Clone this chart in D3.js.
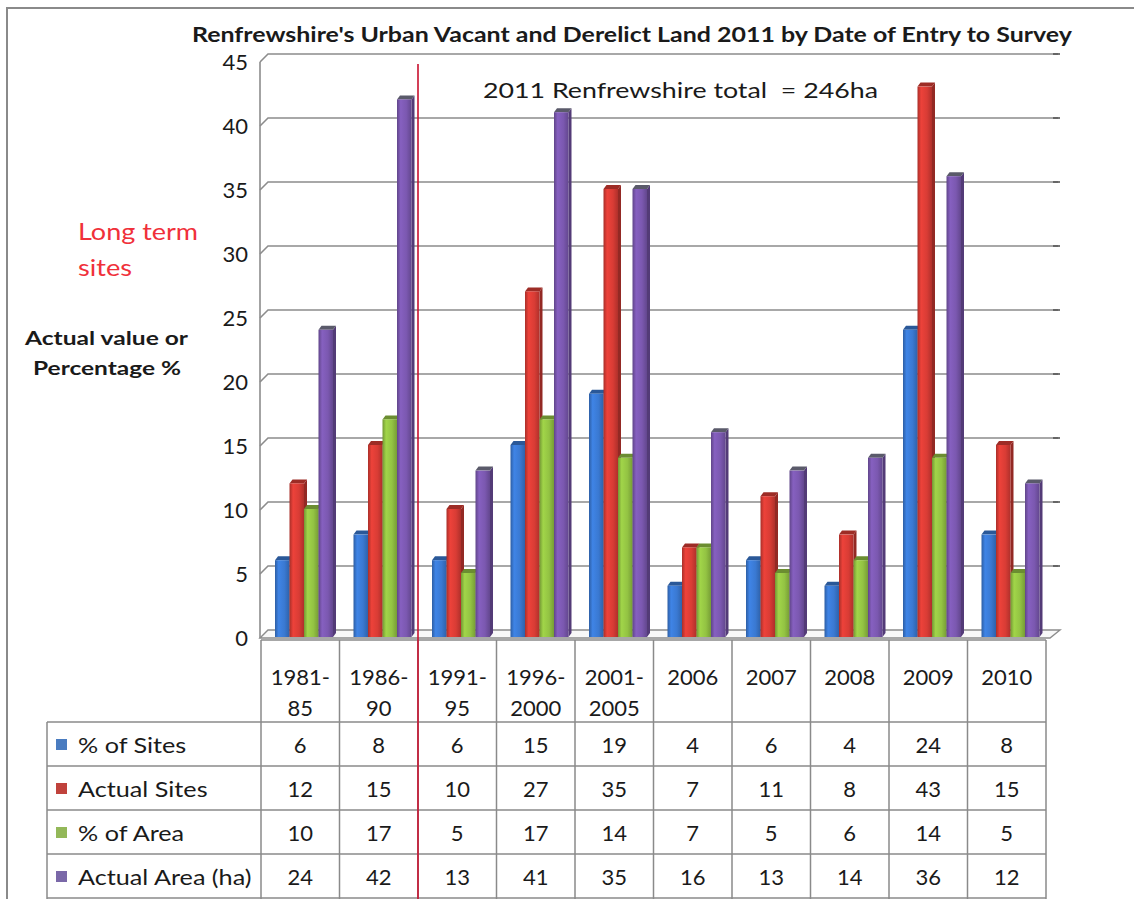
<!DOCTYPE html>
<html>
<head>
<meta charset="utf-8">
<script src="https://cdn.jsdelivr.net/npm/d3@7/dist/d3.min.js"></script>
<style>
  body { margin: 0; background: #fff; }
  svg { display: block; }
  text { font-family: Lato, "Open Sans", sans-serif; fill: #1a1a1a; }
</style>
</head>
<body>
<div id="chart"></div>
<script>
// ---- data ----
var categories = ["1981-85", "1986-90", "1991-95", "1996-2000", "2001-2005", "2006", "2007", "2008", "2009", "2010"];
var headerLines = [["1981-", "85"], ["1986-", "90"], ["1991-", "95"], ["1996-", "2000"], ["2001-", "2005"], ["2006"], ["2007"], ["2008"], ["2009"], ["2010"]];
var seriesNames = ["% of Sites", "Actual Sites", "% of Area", "Actual Area (ha)"];
var pctSites = [6, 8, 6, 15, 19, 4, 6, 4, 24, 8];
var actualSites = [12, 15, 10, 27, 35, 7, 11, 8, 43, 15];
var pctArea = [10, 17, 5, 17, 14, 7, 5, 6, 14, 5];
var actualArea = [24, 42, 13, 41, 35, 16, 13, 14, 36, 12];
var yTicks = [0, 5, 10, 15, 20, 25, 30, 35, 40, 45];

var seriesValues = [pctSites, actualSites, pctArea, actualArea];
var barColors = ["#3a79d2", "#d93c35", "#93c343", "#7b58b0"];
var keyColors = ["#4a7cc0", "#c0423c", "#93b859", "#7a68a8"];

// ---- layout ----
var width = 1134, height = 899;
var tableLeft = 261, tableRight = 1046;
var baseY = 637;          // front edge of floor
var depthX = 7, depthY = 7; // 3d offset of back wall
var headerTop = 640, headerBottom = 722, rowH = 44;

var svg = d3.select("#chart").append("svg")
    .attr("width", width)
    .attr("height", height);

var defs = svg.append("defs");

// stretch text horizontally (the source picture is wider than the font)
function stretch(sel, k) {
    sel.each(function () {
        var L = this.getComputedTextLength();
        d3.select(this).attr("textLength", L * k).attr("lengthAdjust", "spacingAndGlyphs");
    });
}
function fitTo(sel, w) {
    sel.attr("textLength", w).attr("lengthAdjust", "spacingAndGlyphs");
}

// outer frame
svg.append("path")
    .attr("d", "M7,899 V8 H1134")
    .attr("fill", "none")
    .attr("stroke", "#8a8a8a")
    .attr("stroke-width", 2);

// scales
var x = d3.scaleBand().domain(categories).range([tableLeft, tableRight]);
var xs = d3.scaleBand().domain(seriesNames).range([14, 14 + 4 * 14.5]);
var y = d3.scaleLinear().domain([0, 45]).range([baseY, baseY - 45 * 12.8]);

// ---- walls and gridlines ----
var grid = svg.append("g");
var wallLeft = tableLeft - 1;
grid.append("line")
    .attr("x1", wallLeft).attr("x2", wallLeft)
    .attr("y1", y(45) + 1).attr("y2", baseY + 1)
    .attr("stroke", "#8c8c8c").attr("stroke-width", 1.6);

yTicks.filter(d => d > 0).forEach(function (v) {
    var yb = y(v) - depthY;
    grid.append("path")
        .attr("d", `M${wallLeft},${yb + depthY + 1} L${wallLeft + depthX + 1},${yb} H1058`)
        .attr("fill", "none")
        .attr("stroke", "#8c8c8c")
        .attr("stroke-width", 1.6);
    grid.append("line")
        .attr("x1", 1053).attr("x2", 1060)
        .attr("y1", yb).attr("y2", yb)
        .attr("stroke", "#555").attr("stroke-width", 1.6);
});

// floor
grid.append("path")
    .attr("d", `M${wallLeft},${baseY + 1} L${wallLeft + depthX + 1},${baseY - depthY} H1060 L1050,${baseY + 1} Z`)
    .attr("fill", "#f8f8f8")
    .attr("stroke", "#8c8c8c")
    .attr("stroke-width", 1.4);

// value axis labels
var yAxis = d3.axisLeft(y).tickValues(yTicks).tickSize(0).tickPadding(0);
var yAxisG = svg.append("g")
    .attr("transform", "translate(248, 1)")
    .call(yAxis);
yAxisG.select(".domain").remove();
yAxisG.selectAll("text")
    .attr("font-size", 22)
    .attr("font-family", "Lato, sans-serif")
    .attr("fill", "#222");

// ---- bars ----
seriesNames.forEach(function (name, si) {
    var c = d3.color(barColors[si]);
    var g = defs.append("linearGradient")
        .attr("id", "grad" + si)
        .attr("x1", "0%").attr("x2", "100%").attr("y1", "0%").attr("y2", "0%");
    g.append("stop").attr("offset", "0%").attr("stop-color", c.darker(0.7));
    g.append("stop").attr("offset", "25%").attr("stop-color", c.brighter(0.25));
    g.append("stop").attr("offset", "65%").attr("stop-color", c);
    g.append("stop").attr("offset", "100%").attr("stop-color", c.darker(0.6));
});

var barW = xs.bandwidth();
var dx = 3, dy = 4;
var bars = svg.append("g");
categories.forEach(function (cat, ci) {
    seriesNames.forEach(function (name, si) {
        var v = seriesValues[si][ci];
        var x0 = x(cat) + xs(name);
        var top = y(v);
        var c = d3.color(barColors[si]);
        var bg = bars.append("g");
        // side face
        bg.append("path")
            .attr("d", `M${x0 + barW},${top} L${x0 + barW + dx},${top - dy} V${baseY - dy} L${x0 + barW},${baseY} Z`)
            .attr("fill", c.darker(1.1));
        // top face
        bg.append("path")
            .attr("d", `M${x0},${top} L${x0 + dx},${top - dy} H${x0 + barW + dx} L${x0 + barW},${top} Z`)
            .attr("fill", si === 3 ? "#5a5a6a" : c.darker(0.9));
        // front face
        bg.append("rect")
            .attr("x", x0)
            .attr("y", top)
            .attr("width", barW)
            .attr("height", baseY - top)
            .attr("fill", `url(#grad${si})`);
    });
});

// ---- data table ----
var table = svg.append("g");
var lineColor = "#8a8a8a";
var rowsTop = headerBottom;
var tableBottom = height + 5;

// header top line
table.append("line")
    .attr("x1", tableLeft).attr("x2", tableRight)
    .attr("y1", headerTop).attr("y2", headerTop)
    .attr("stroke", lineColor).attr("stroke-width", 1.5);

// vertical column lines
categories.concat(["end"]).forEach(function (cat, i) {
    var xx = i < categories.length ? x(cat) : tableRight;
    table.append("line")
        .attr("x1", xx).attr("x2", xx)
        .attr("y1", headerTop).attr("y2", tableBottom)
        .attr("stroke", lineColor).attr("stroke-width", 1.5);
});
// legend column left border
table.append("line")
    .attr("x1", 47).attr("x2", 47)
    .attr("y1", rowsTop).attr("y2", tableBottom)
    .attr("stroke", lineColor).attr("stroke-width", 1.5);

// horizontal row lines
for (var r = 0; r < 5; r++) {
    table.append("line")
        .attr("x1", 47).attr("x2", tableRight)
        .attr("y1", rowsTop + r * rowH).attr("y2", rowsTop + r * rowH)
        .attr("stroke", lineColor).attr("stroke-width", 1.5);
}

// header labels
headerLines.forEach(function (lines, ci) {
    lines.forEach(function (t, li) {
        table.append("text")
            .attr("x", x(categories[ci]) + x.bandwidth() / 2)
            .attr("y", 676 + li * 31)
            .attr("text-anchor", "middle")
            .attr("dominant-baseline", "central")
            .attr("font-size", 22)
            .text(t);
    });
});

// legend keys and cell values
seriesNames.forEach(function (name, si) {
    var cy = rowsTop + si * rowH + rowH / 2;
    table.append("rect")
        .attr("x", 56).attr("y", cy - 5)
        .attr("width", 11).attr("height", 11)
        .attr("fill", keyColors[si]);
    table.append("text")
        .attr("x", 78).attr("y", cy)
        .attr("dominant-baseline", "central")
        .attr("font-size", 21)
        .text(name)
        .call(stretch, 1.2);
    categories.forEach(function (cat, ci) {
        table.append("text")
            .attr("x", x(cat) + x.bandwidth() / 2)
            .attr("y", cy)
            .attr("text-anchor", "middle")
            .attr("dominant-baseline", "central")
            .attr("font-size", 22)
            .text(seriesValues[si][ci]);
    });
});

// ---- separator line for long term sites ----
svg.append("line")
    .attr("x1", x("1991-95")).attr("x2", x("1991-95"))
    .attr("y1", 64).attr("y2", height)
    .attr("stroke", "#c8102e")
    .attr("stroke-width", 1.6);

// ---- titles and notes ----
svg.append("text")
    .attr("x", 192).attr("y", 42)
    .attr("font-size", 20)
    .attr("font-weight", "bold")
    .text("Renfrewshire's Urban Vacant and Derelict Land 2011 by Date of Entry to Survey")
    .call(fitTo, 880);

svg.append("text")
    .attr("x", 483).attr("y", 98)
    .attr("font-size", 22)
    .attr("xml:space", "preserve")
    .text("2011 Renfrewshire total  = 246ha")
    .call(fitTo, 395);

[["Long term", 240, 120], ["sites", 276, 54]].forEach(function (d) {
    svg.append("text")
        .attr("x", 78).attr("y", d[1])
        .attr("font-size", 23)
        .style("fill", "#f0303a")
        .text(d[0])
        .call(fitTo, d[2]);
});

[["Actual value or", 345, 25, 163], ["Percentage %", 375, 33, 148]].forEach(function (d) {
    svg.append("text")
        .attr("x", d[2]).attr("y", d[1])
        .attr("font-size", 19)
        .attr("font-weight", "bold")
        .text(d[0])
        .call(fitTo, d[3]);
});
</script>
</body>
</html>
